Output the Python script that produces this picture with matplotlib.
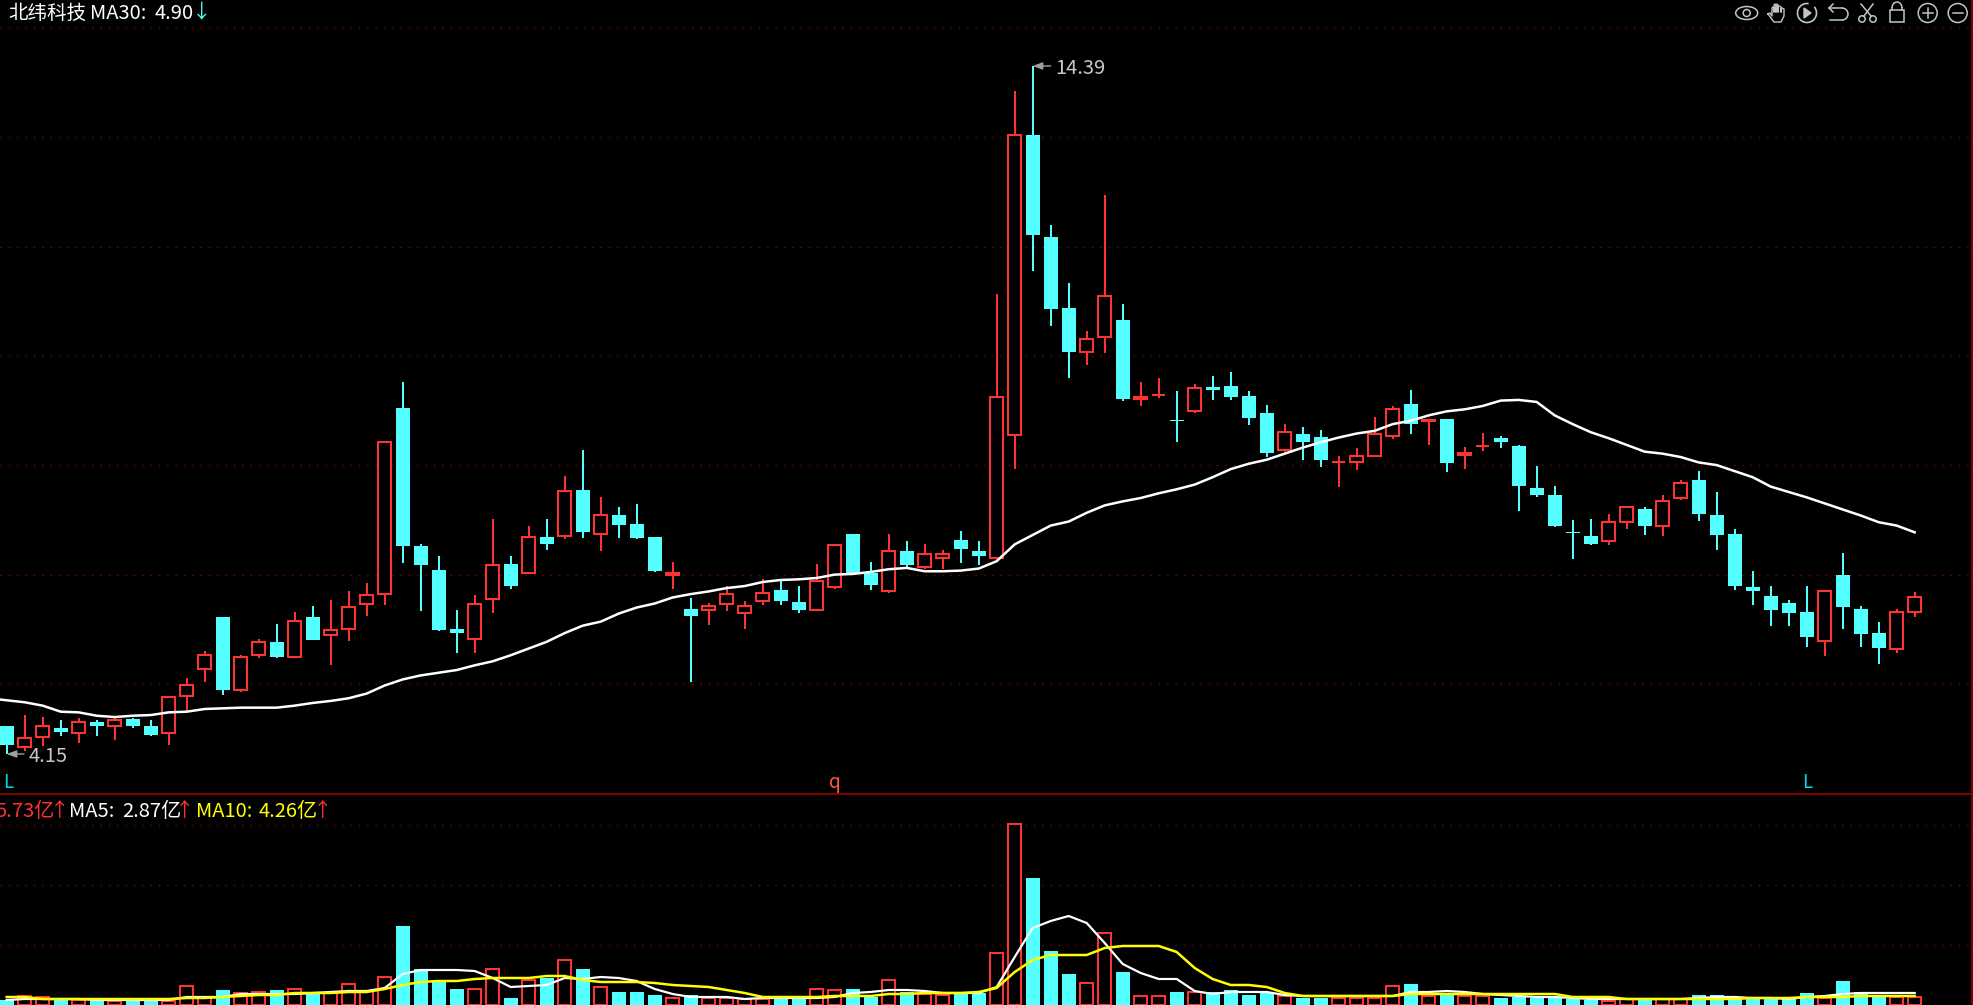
import matplotlib
matplotlib.use('Agg')
import matplotlib.pyplot as plt
from matplotlib.patches import Circle, Ellipse, Rectangle, Arc, Polygon
import numpy as np

plt.rcParams['font.family'] = ['Noto Sans CJK SC', 'DejaVu Sans']

opens = [4.57, 4.26, 4.40, 4.53, 4.47, 4.62, 4.56, 4.67, 4.57, 4.47,
         5.01, 5.42, 6.19, 5.11, 5.63, 5.82, 5.60, 6.19, 5.92, 6.01,
         6.39, 6.53, 9.30, 7.25, 6.89, 6.01, 5.86, 6.45, 6.98, 6.85,
         7.38, 7.39, 8.08, 7.43, 7.71, 7.57, 7.38, 6.82, 6.31, 6.30,
         6.39, 6.25, 6.43, 6.59, 6.41, 6.30, 6.63, 7.42, 6.84, 6.57,
         7.17, 6.94, 7.06, 7.34, 7.17, 7.06, 8.90, 13.37, 11.85, 10.79,
         10.14, 10.36, 10.61, 9.44, 9.50, 9.12, 9.25, 9.61, 9.63, 9.48,
         9.23, 8.67, 8.91, 8.87, 8.49, 8.50, 8.59, 8.89, 9.36, 9.10,
         9.14, 8.60, 8.74, 8.85, 8.73, 8.11, 8.00, 7.46, 7.39, 7.32,
         7.61, 7.80, 7.55, 7.96, 8.23, 7.71, 7.42, 6.64, 6.50, 6.40,
         6.26, 5.83, 6.81, 6.31, 5.95, 5.72, 6.26]
closes = [4.28, 4.39, 4.56, 4.48, 4.62, 4.56, 4.66, 4.56, 4.44, 5.00,
          5.18, 5.63, 5.11, 5.60, 5.81, 5.60, 6.13, 5.85, 6.00, 6.34,
          6.52, 8.80, 7.24, 6.97, 6.00, 5.95, 6.39, 6.97, 6.65, 7.38,
          7.28, 8.06, 7.45, 7.70, 7.56, 7.37, 6.87, 6.85, 6.20, 6.36,
          6.53, 6.35, 6.54, 6.43, 6.29, 6.72, 7.26, 6.85, 6.67, 7.17,
          6.96, 7.12, 7.12, 7.20, 7.10, 9.47, 13.37, 11.88, 10.78, 10.13,
          10.33, 10.96, 9.44, 9.47, 9.50, 9.10, 9.60, 9.57, 9.46, 9.15,
          8.63, 8.94, 8.79, 8.53, 8.49, 8.59, 8.91, 9.29, 9.06, 9.12,
          8.48, 8.63, 8.74, 8.79, 8.14, 8.00, 7.54, 7.44, 7.28, 7.61,
          7.82, 7.54, 7.91, 8.19, 7.72, 7.41, 6.65, 6.57, 6.29, 6.25,
          5.89, 6.57, 6.34, 5.94, 5.73, 6.26, 6.48]
highs = [4.57, 4.73, 4.70, 4.66, 4.68, 4.66, 4.68, 4.68, 4.66, 5.00,
         5.28, 5.68, 6.19, 5.63, 5.86, 6.08, 6.26, 6.35, 6.44, 6.57,
         6.69, 8.80, 9.69, 7.28, 7.10, 6.29, 6.52, 7.65, 7.10, 7.54,
         7.65, 8.29, 8.67, 7.98, 7.83, 7.87, 7.38, 7.01, 6.47, 6.40,
         6.65, 6.43, 6.75, 6.74, 6.65, 6.98, 7.26, 7.42, 7.01, 7.42,
         7.32, 7.28, 7.19, 7.47, 7.32, 10.99, 14.02, 14.39, 12.02, 11.16,
         10.45, 12.47, 10.85, 9.69, 9.75, 9.55, 9.66, 9.78, 9.84, 9.55,
         9.34, 9.06, 9.02, 8.97, 8.59, 8.70, 9.17, 9.33, 9.57, 9.12,
         9.14, 8.72, 8.93, 8.88, 8.75, 8.44, 8.14, 7.63, 7.65, 7.72,
         7.82, 7.83, 8.00, 8.23, 8.36, 8.05, 7.50, 6.87, 6.65, 6.44,
         6.65, 6.57, 7.14, 6.35, 6.12, 6.31, 6.56]
lows = [4.15, 4.19, 4.27, 4.42, 4.32, 4.42, 4.36, 4.54, 4.42, 4.28,
        4.78, 5.22, 5.03, 5.08, 5.58, 5.58, 5.58, 5.84, 5.47, 5.83,
        6.20, 6.37, 7.00, 6.28, 5.98, 5.65, 5.65, 6.25, 6.61, 6.83,
        7.19, 7.35, 7.37, 7.17, 7.37, 7.35, 6.86, 6.61, 5.22, 6.07,
        6.28, 6.01, 6.37, 6.37, 6.25, 6.28, 6.61, 6.83, 6.59, 6.55,
        6.93, 6.90, 6.90, 6.99, 6.96, 7.02, 8.39, 11.34, 10.52, 9.74,
        9.94, 10.12, 9.40, 9.33, 9.45, 8.79, 9.23, 9.42, 9.42, 9.05,
        8.57, 8.64, 8.53, 8.42, 8.12, 8.38, 8.57, 8.84, 8.91, 8.75,
        8.35, 8.39, 8.66, 8.70, 7.77, 7.97, 7.53, 7.05, 7.26, 7.26,
        7.50, 7.41, 7.39, 7.93, 7.62, 7.19, 6.59, 6.37, 6.05, 6.05,
        5.74, 5.61, 6.01, 5.74, 5.49, 5.65, 6.19]
ma30 = [4.95, 4.92, 4.87, 4.78, 4.77, 4.72, 4.70, 4.72, 4.73, 4.77,
        4.78, 4.82, 4.83, 4.84, 4.84, 4.84, 4.87, 4.91, 4.94, 4.98,
        5.05, 5.17, 5.26, 5.32, 5.36, 5.40, 5.47, 5.53, 5.62, 5.72,
        5.82, 5.95, 6.06, 6.12, 6.24, 6.33, 6.39, 6.48, 6.53, 6.57,
        6.62, 6.65, 6.71, 6.74, 6.75, 6.77, 6.82, 6.83, 6.86, 6.90,
        6.92, 6.87, 6.87, 6.88, 6.91, 7.02, 7.27, 7.41, 7.55, 7.61,
        7.74, 7.85, 7.91, 7.96, 8.03, 8.09, 8.16, 8.27, 8.39, 8.47,
        8.53, 8.62, 8.71, 8.79, 8.86, 8.92, 8.96, 9.06, 9.11, 9.19,
        9.25, 9.28, 9.33, 9.41, 9.42, 9.39, 9.19, 9.06, 8.94, 8.85,
        8.75, 8.65, 8.62, 8.57, 8.49, 8.45, 8.36, 8.27, 8.13, 8.05,
        7.97, 7.88, 7.79, 7.70, 7.60, 7.55, 7.45]
ma30_before = 4.98  # the bar just off the left edge

vol = [0.40, 0.72, 0.64, 0.48, 0.40, 0.48, 0.32, 0.40, 0.40, 0.32,
       1.52, 0.64, 1.20, 0.96, 1.04, 1.20, 1.28, 0.96, 0.96, 1.68,
       1.12, 2.24, 6.32, 2.88, 1.92, 1.28, 1.28, 2.88, 0.56, 2.00,
       2.16, 3.60, 2.88, 1.44, 1.04, 1.04, 0.80, 0.56, 0.80, 0.56,
       0.56, 0.48, 0.48, 0.48, 0.48, 1.28, 1.20, 1.28, 0.64, 2.00,
       1.04, 0.88, 0.80, 1.04, 0.96, 4.16, 14.48, 10.16, 4.32, 2.48,
       1.76, 5.76, 2.64, 0.72, 0.72, 1.04, 1.04, 1.04, 1.20, 0.80,
       0.96, 0.72, 0.56, 0.56, 0.56, 0.56, 0.56, 1.52, 1.68, 0.72,
       0.96, 0.72, 0.72, 0.56, 0.64, 0.56, 0.56, 0.48, 0.40, 0.32,
       0.48, 0.48, 0.48, 0.48, 0.80, 0.80, 0.56, 0.48, 0.48, 0.48,
       0.96, 0.56, 1.92, 1.04, 0.64, 0.64, 0.64]
vol_ma5 = [0.40, 0.48, 0.48, 0.48, 0.48, 0.40, 0.40, 0.40, 0.40, 0.40,
           0.64, 0.64, 0.64, 0.88, 0.88, 0.88, 0.88, 0.96, 1.04, 1.12,
           1.12, 1.36, 2.48, 2.80, 2.80, 2.80, 2.72, 2.16, 1.44, 1.52,
           1.60, 2.16, 2.08, 2.24, 2.16, 1.92, 1.28, 0.88, 0.64, 0.64,
           0.64, 0.48, 0.56, 0.56, 0.56, 0.56, 0.64, 0.96, 1.04, 1.20,
           1.20, 1.12, 0.96, 0.96, 0.96, 1.44, 3.84, 6.16, 6.72, 7.12,
           6.56, 4.96, 3.28, 2.56, 2.08, 2.08, 1.12, 0.88, 1.04, 1.04,
           1.04, 0.80, 0.72, 0.72, 0.72, 0.72, 0.72, 0.72, 1.04, 1.04,
           1.12, 1.04, 0.88, 0.80, 0.72, 0.64, 0.64, 0.56, 0.48, 0.48,
           0.48, 0.48, 0.48, 0.48, 0.56, 0.64, 0.64, 0.56, 0.56, 0.48,
           0.64, 0.72, 0.88, 0.96, 0.96, 0.96, 0.96]
vol_ma10 = [0.64, 0.64, 0.48, 0.48, 0.48, 0.48, 0.48, 0.48, 0.48, 0.48,
            0.56, 0.56, 0.64, 0.72, 0.80, 0.80, 0.96, 0.96, 0.96, 1.04,
            1.04, 1.28, 1.60, 1.84, 1.92, 1.92, 2.08, 2.16, 2.16, 2.16,
            2.32, 2.32, 2.00, 1.84, 1.84, 1.84, 1.76, 1.60, 1.52, 1.44,
            1.20, 0.96, 0.64, 0.64, 0.64, 0.64, 0.72, 0.72, 0.72, 0.88,
            0.88, 0.96, 0.96, 0.96, 1.04, 1.36, 2.64, 3.60, 4.00, 4.00,
            4.00, 4.56, 4.72, 4.72, 4.72, 4.24, 2.96, 2.08, 1.60, 1.60,
            1.44, 0.96, 0.72, 0.72, 0.72, 0.72, 0.72, 0.72, 0.88, 0.88,
            0.88, 0.88, 0.88, 0.88, 0.88, 0.88, 0.88, 0.64, 0.64, 0.64,
            0.48, 0.48, 0.48, 0.48, 0.48, 0.48, 0.48, 0.56, 0.56, 0.56,
            0.64, 0.64, 0.64, 0.72, 0.72, 0.72, 0.72]

price_grid = [5.19, 6.82, 8.45, 10.08, 11.70, 13.33, 14.96]
vol_grid = [4.8, 9.6, 14.4]

RED = '#ff3232'
CYAN = '#54ffff'
GRID = '#8a0000'
ICON = '#c4c4c4'
LW = 1.44  # 2px at dpi 100

opens = np.array(opens)
closes = np.array(closes)
highs = np.array(highs)
lows = np.array(lows)
vol = np.array(vol)
idx = np.arange(len(opens))
up = closes >= opens
W = 0.72
xlim = (-0.372, 109.24)

fig = plt.figure(figsize=(19.73, 10.05), dpi=100, facecolor='black')
ax1 = fig.add_axes([0, 211 / 1005, 1, 794 / 1005], facecolor='black')
ax2 = fig.add_axes([0, 0, 1, 211 / 1005], facecolor='black')

for ax in (ax1, ax2):
    ax.set_xlim(*xlim)
    ax.set_xticks([])
    ax.tick_params(left=False, labelleft=False)
    for s in ax.spines.values():
        s.set_visible(False)
    ax.grid(True, axis='y', color=GRID, lw=1, ls=(0, (1, 5)))
    ax.set_axisbelow(True)

# candles
ax1.vlines(idx[up], lows[up], highs[up], color=RED, lw=LW, zorder=2)
ax1.vlines(idx[~up], lows[~up], highs[~up], color=CYAN, lw=LW, zorder=2)
bot = np.minimum(opens, closes)
ax1.bar(idx[up], (closes - opens)[up], W, bottom=bot[up], facecolor='black',
        edgecolor=RED, lw=LW, zorder=3)
ax1.bar(idx[~up], (opens - closes)[~up], W + 0.06, bottom=bot[~up], color=CYAN, zorder=3)
ax1.plot(np.r_[-1, idx], np.r_[ma30_before, ma30], color='white', lw=1.8, zorder=4)
ax1.set_ylim(3.555, 15.372)
ax1.set_yticks(price_grid)

hi_i = int(np.argmax(highs))
lo_i = int(np.argmin(lows))
for i, val, off in ((hi_i, highs[hi_i], 16), (lo_i, lows[lo_i], 15.5)):
    ax1.annotate('%.2f' % val, xy=(i, val), xytext=(off, -1.5), textcoords='offset points',
                 color='#c8c8c8', fontsize=14.5, va='center', zorder=5,
                 arrowprops=dict(arrowstyle='-|>,head_width=0.15,head_length=0.4', color='#a0a0a0',
                                 lw=1, shrinkA=1, shrinkB=0, relpos=(0, 0.6)))

# volume
ax2.bar(idx[up], vol[up], W, facecolor='black', edgecolor=RED, lw=LW, zorder=2)
ax2.bar(idx[~up], vol[~up], W + 0.06, color=CYAN, zorder=2)
ax2.plot(idx, vol_ma5, color='white', lw=1.6, zorder=3)
ax2.plot(idx, vol_ma10, color='#ffff00', lw=1.8, zorder=4)
ax2.set_ylim(0, 16.88)
ax2.set_yticks(vol_grid)

# overlay in pixel coordinates for frame, titles and toolbar icons
ov = fig.add_axes([0, 0, 1, 1], zorder=10)
ov.set_xlim(0, 1973)
ov.set_ylim(1005, 0)
ov.axis('off')
ov.axhline(794, color='#800000', lw=LW)
ov.axvline(1971.5, color='#800000', lw=LW)


def label(x, y, s, color, size=14.5):
    ov.text(x, y, s, color=color, fontsize=size, va='center', ha='left')


label(8, 13, '北纬科技', 'white', 14)
label(90, 13, 'MA30:', 'white')
label(155, 13, '4.90', 'white')
label(192, 12, '↓', CYAN, 14)

label(-5, 811, '5.73亿', RED)
label(50, 810, '↑', RED, 14)
label(69, 811, 'MA5:', 'white')
label(122, 811, '2.87亿', 'white')
label(175, 810, '↑', RED, 14)
label(196, 811, 'MA10:', '#ffff00')
label(259, 811, '4.26亿', '#ffff00')
label(313, 810, '↑', RED, 14)

ov.text(3, 782, 'L', color='#00d8e8', fontsize=13.5, va='center')
ov.text(829, 782, 'q', color='#ff5a30', fontsize=13.5, va='center')
ov.text(1802, 782, 'L', color='#00d8e8', fontsize=13.5, va='center')


# toolbar icons
def ring(x, y, r=9.5):
    ov.add_patch(Circle((x, y), r, fill=False, ec=ICON, lw=1.1))


cy = 13
ov.add_patch(Ellipse((1746.7, cy), 22, 13, fill=False, ec=ICON, lw=1.1))
ring(1746.7, cy, 3.5)

hand = [(-9, 1), (-7, 0), (-5, 3), (-5, -5), (-4, -6), (-3, -5), (-3, -1), (-3, -8), (-2, -9),
        (-1, -8), (-1, -1), (-1, -8), (0, -9), (1, -8), (1, -1), (1, -6), (2, -7), (4, -6),
        (4, -1), (4, -4), (5, -5), (7, -4), (7, 3), (4, 9), (-3, 9), (-9, 1)]
ov.plot([1777 + p[0] for p in hand], [cy + p[1] for p in hand], color=ICON, lw=1.0)

ov.add_patch(Arc((1807, cy), 19, 19, theta1=-40, theta2=280, ec=ICON, lw=1.2))
ov.add_patch(Polygon([(1804, cy - 5), (1804, cy + 5), (1811, cy)], fc=ICON, ec=ICON))

ov.plot([1829, 1842], [cy - 5, cy - 5], color=ICON, lw=1.1)
ov.plot([1842, 1830], [cy + 7, cy + 7], color=ICON, lw=1.1)
ov.add_patch(Arc((1842, cy + 1), 12, 12, theta1=-90, theta2=90, ec=ICON, lw=1.1))
ov.plot([1833, 1829, 1833], [cy - 9, cy - 5, cy - 1], color=ICON, lw=1.1)

ring(1862, cy + 6, 3.2)
ring(1873, cy + 6, 3.2)
ov.plot([1864, 1873], [cy + 3, cy - 9], color=ICON, lw=1.1)
ov.plot([1871, 1861], [cy + 3, cy - 9], color=ICON, lw=1.1)

ov.add_patch(Rectangle((1890, cy - 3), 14, 12, fill=False, ec=ICON, lw=1.1))
ov.add_patch(Arc((1897, cy - 5), 10, 12, theta1=180, theta2=360, ec=ICON, lw=1.1))
ov.plot([1892, 1892], [cy - 5, cy - 3], color=ICON, lw=1.1)
ov.plot([1902, 1902], [cy - 5, cy - 3], color=ICON, lw=1.1)

ring(1927.7, cy)
ov.plot([1922.7, 1932.7], [cy, cy], color=ICON, lw=1.1)
ov.plot([1927.7, 1927.7], [cy - 5, cy + 5], color=ICON, lw=1.1)
ring(1957.7, cy)
ov.plot([1952.7, 1962.7], [cy, cy], color=ICON, lw=1.1)

fig.savefig('out.png', dpi=100, facecolor='black')
